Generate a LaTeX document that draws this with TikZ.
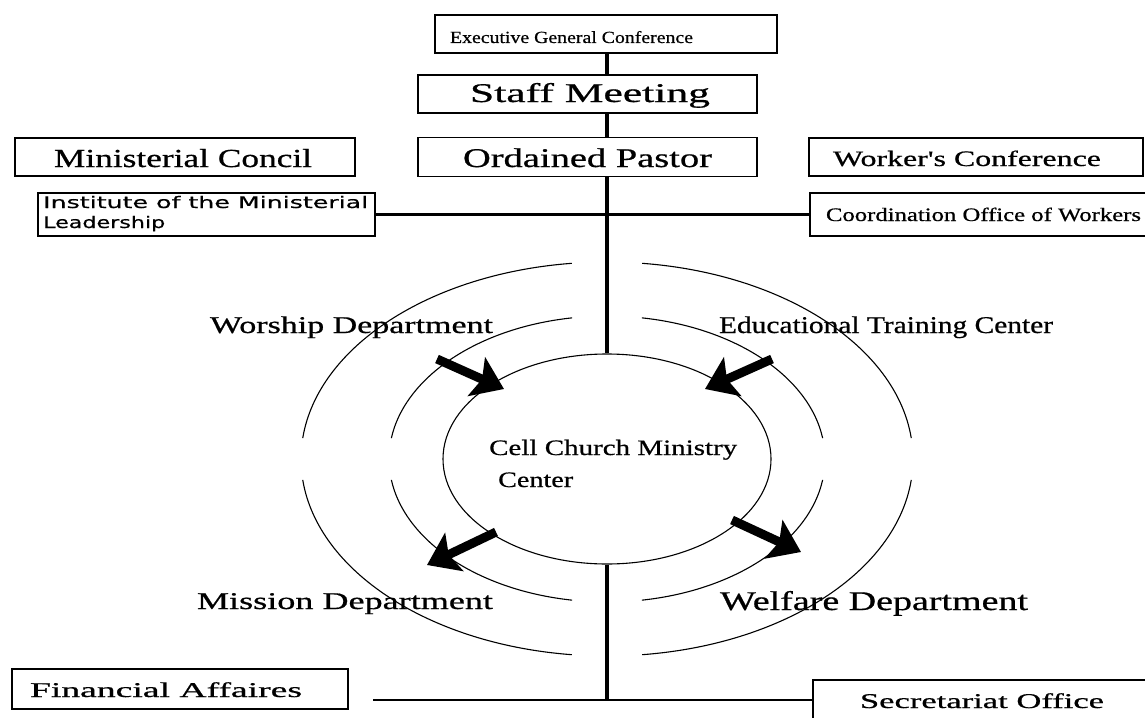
\documentclass[tikz,border=0pt]{standalone}
\usepackage{fontspec}
\setmainfont{Liberation Serif}
\newfontfamily\hv{Liberation Serif}[FakeBold=0.6]
\newfontfamily\instfont{DejaVu Sans}[FakeBold=0.5]
\usetikzlibrary{arrows.meta,shapes.geometric}
\newcommand{\wtxt}[3]{\resizebox{#1pt}{\height}{\fontsize{#2}{#2}\selectfont #3}}
\begin{document}
\begin{tikzpicture}[x=1pt,y=-1pt,
  box/.style={draw, line width=1.3pt, inner sep=0pt, outer sep=0pt},
  lbl/.style={inner sep=0pt, anchor=base},
  lblw/.style={inner sep=0pt, anchor=base west},
  vline/.style={line width=3.8pt},
  hline/.style={line width=2.4pt},
  ring/.style={line width=1.1pt},
  fat/.style={line width=9pt, -{Stealth[length=30pt,width=42pt,inset=6pt]}}]
\useasboundingbox (0,0) rectangle (1145,717);

% boxes
\node[box, minimum width=342pt, minimum height=38pt] (exec) at (606,34) {};
\node[box, minimum width=339pt, minimum height=38pt] (staff) at (587.5,94) {};
\node[box, minimum width=339pt, minimum height=39pt] (ord) at (587.5,157) {};
\node[box, minimum width=340pt, minimum height=38pt] (mini) at (185,157) {};
\node[box, minimum width=334pt, minimum height=38pt] (work) at (976,157) {};
\node[box, minimum width=337pt, minimum height=43pt] (inst) at (206.5,214.5) {};
\node[box, minimum width=340pt, minimum height=43pt] (coord) at (980,214.5) {};
\node[box, minimum width=336pt, minimum height=40pt] (fin) at (180,689) {};
\node[box, minimum width=337pt, minimum height=50pt] (sec) at (981.5,705) {};

% texts
\node[lbl] (exec-t) at (571.5,43) {\hv\wtxt{243}{17}{Executive General Conference}};
\node[lbl] (staff-t) at (590,102) {\hv\wtxt{240}{27}{Staff Meeting}};
\node[lbl] (ord-t) at (587.5,167) {\hv\wtxt{249}{27}{Ordained Pastor}};
\node[lbl] (mini-t) at (183,167) {\hv\wtxt{258}{26}{Ministerial Concil}};
\node[lbl] (work-t) at (967,166) {\hv\wtxt{268}{22}{Worker's Conference}};
\node[lblw] (inst-t1) at (43,208) {\instfont\wtxt{325}{16}{Institute of the Ministerial}};
\node[lblw] (inst-t2) at (43,228) {\instfont\wtxt{122}{16}{Leadership}};
\node[lbl] (coord-t) at (983.5,221) {\hv\wtxt{315}{19}{Coordination Office of Workers}};
\node[lbl] (fin-t) at (166,697) {\hv\wtxt{272}{21}{Financial Affaires}};
\node[lbl] (sec-t) at (982,708) {\hv\wtxt{244}{21}{Secretariat Office}};

% central ellipse and rings
\node[draw, ellipse, line width=1.1pt, minimum width=328pt, minimum height=210pt, inner sep=0pt] (ell) at (607,459) {};
\node[lblw] (cell-t1) at (489,455) {\hv\wtxt{248}{22}{Cell Church Ministry}};
\node[lblw] (cell-t2) at (498,487) {\hv\wtxt{75}{22}{Center}};

\foreach \rx/\ry/\t/\l in {218/143/99.2/171.6, 306/197/96.6/173.9} {
  \draw[ring] (ell.center) ++({\rx*cos(-\t)},{\ry*sin(-\t)}) arc[start angle={-\t}, end angle={-\l}, x radius=\rx, y radius=\ry];
  \draw[ring] (ell.center) ++({\rx*cos(\l-180)},{\ry*sin(\l-180)}) arc[start angle={\l-180}, end angle={\t-180}, x radius=\rx, y radius=\ry];
  \draw[ring] (ell.center) ++({\rx*cos(\l)},{\ry*sin(\l)}) arc[start angle={\l}, end angle={\t}, x radius=\rx, y radius=\ry];
  \draw[ring] (ell.center) ++({\rx*cos(180-\t)},{\ry*sin(180-\t)}) arc[start angle={180-\t}, end angle={180-\l}, x radius=\rx, y radius=\ry];
}

% department labels
\node[lbl] (wor-t) at (351.5,333) {\hv\wtxt{283}{24}{Worship Department}};
\node[lbl] (edu-t) at (886,333) {\hv\wtxt{334}{24}{Educational Training Center}};
\node[lbl] (mis-t) at (345,609) {\hv\wtxt{296}{24}{Mission Department}};
\node[lbl] (wel-t) at (874,610) {\hv\wtxt{308}{27}{Welfare Department}};

% arrows
\coordinate (a1s) at (437,359); \coordinate (a1e) at (504,389);
\coordinate (a2s) at (772,359); \coordinate (a2e) at (705,389);
\coordinate (a3s) at (496,532); \coordinate (a3e) at (427,565);
\coordinate (a4s) at (732,520); \coordinate (a4e) at (801,552);
\draw[fat] (a1s) -- (a1e);
\draw[fat] (a2s) -- (a2e);
\draw[fat] (a3s) -- (a3e);
\draw[fat] (a4s) -- (a4e);

% connectors
\draw[vline] (exec.south -| ell.north) -- (staff.north -| ell.north);
\draw[vline] (staff.south -| ell.north) -- (ord.north -| ell.north);
\draw[vline] (ord.south -| ell.north) -- (ell.north);
\draw[hline] (inst.east) -- (coord.west);
\coordinate (jn) at (607,700);
\coordinate (fl) at (373,700);
\draw[vline] (ell.south) -- (jn);
\draw[hline] (fl) -- (sec.west |- jn);
\end{tikzpicture}
\end{document}
